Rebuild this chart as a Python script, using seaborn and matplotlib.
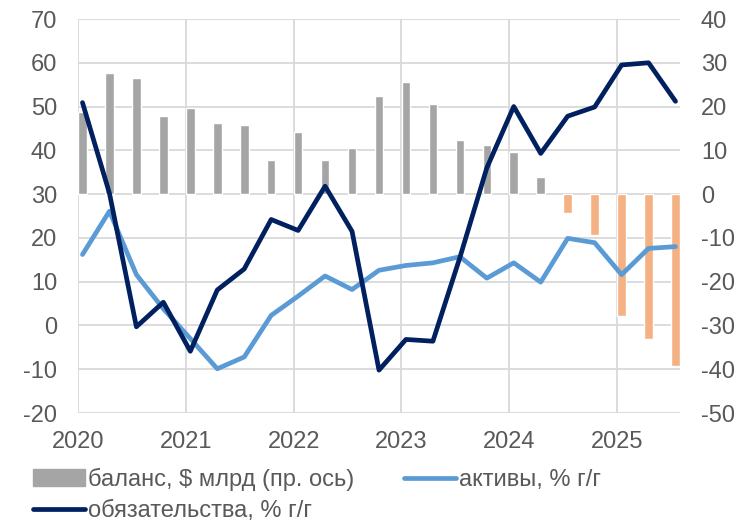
import numpy as np
import pandas as pd
import seaborn as sns
import matplotlib.pyplot as plt
from matplotlib.patches import Patch
from matplotlib.lines import Line2D

# quarterly observations, Jan 2020 .. Jul 2025
quarters = ['2020-01', '2020-04', '2020-07', '2020-10',
            '2021-01', '2021-04', '2021-07', '2021-10',
            '2022-01', '2022-04', '2022-07', '2022-10',
            '2023-01', '2023-04', '2023-07', '2023-10',
            '2024-01', '2024-04', '2024-07', '2024-10',
            '2025-01', '2025-04', '2025-07']
# balance, $ bn (right axis)
balance = [18.8, 27.6, 26.5, 17.9, 19.7, 16.2, 15.7, 7.8, 14.2, 7.8, 10.5, 22.3,
           25.7, 20.6, 12.3, 11.2, 9.6, 3.8, -4.3, -9.3, -27.9, -33.2, -39.3]
# assets, % y/y (left axis)
assets = [16.2, 26.1, 11.6, 3.8, -3.0, -9.9, -7.2, 2.3, 6.7, 11.3, 8.2, 12.6,
          13.7, 14.3, 15.7, 10.8, 14.3, 9.9, 19.9, 18.9, 11.6, 17.6, 18.0]
# liabilities, % y/y (left axis)
liabilities = [50.9, 30.2, -0.3, 5.3, -5.9, 8.1, 12.9, 24.2, 21.7, 31.8, 21.5, -10.2,
               -3.2, -3.6, 15.5, 36.0, 50.0, 39.3, 47.8, 49.9, 59.5, 60.0, 51.2]
years = ['2020', '2021', '2022', '2023', '2024', '2025']

labels = ['баланс, $ млрд (пр. ось)', 'активы, % г/г', 'обязательства, % г/г']
c_gray, c_orange = '#a5a5a5', '#f4b183'
c_light, c_dark = '#5b9bd5', '#002060'
txt = '#595959'

sns.set_style('white')
plt.rcParams['font.family'] = ['Liberation Sans', 'DejaVu Sans']
plt.rcParams['axes.unicode_minus'] = False

dates = pd.to_datetime(quarters)
df = pd.DataFrame({'date': dates, 'balance': balance,
                   'assets': assets, 'liabilities': liabilities})
# month position on a monthly date axis (middle of the month slot)
df['x'] = (df['date'].dt.year - 2020) * 12 + df['date'].dt.month - 1 + 0.5
df['sign'] = np.where(df['balance'] >= 0, 'pos', 'neg')

fig, ax = plt.subplots(figsize=(7.38, 5.22), dpi=100)
fig.subplots_adjust(left=78/738, right=680/738, top=1-19/522, bottom=1-413/522)

# bars on the main axes (right-hand scale)
sns.barplot(data=df, x='x', y='balance', hue='sign',
            palette={'pos': c_gray, 'neg': c_orange},
            native_scale=True, dodge=False, width=0.32, errorbar=None,
            legend=False, ax=ax, saturation=1)
ax.set_ylim(-50, 40)
ax.set_yticks(range(-50, 41, 10))
ax.set_axisbelow(True)
ax.grid(True, color='#d9d9d9', lw=1.3)

# lines on the twin axes (left-hand scale)
ax2 = ax.twinx()
sns.lineplot(data=df, x='x', y='assets', color=c_light, lw=3.4, ax=ax2)
sns.lineplot(data=df, x='x', y='liabilities', color=c_dark, lw=3.4, ax=ax2)
ax2.set_ylim(-20, 70)
ax2.set_yticks(range(-20, 71, 10))
ax.yaxis.tick_right()
ax2.yaxis.tick_left()

ax.set_xlim(0, 67)
ax.set_xticks(range(0, 61, 12), labels=years)

for a in (ax, ax2):
    a.set_xlabel('')
    a.set_ylabel('')
    for s in a.spines.values():
        s.set_visible(False)
    a.tick_params(length=0, labelsize=17, labelcolor=txt, pad=15)
ax.tick_params(axis='x', pad=13)

handles = [Patch(color=c_gray),
           Line2D([], [], color=c_dark, lw=3.4),
           Line2D([], [], color=c_light, lw=3.4)]
fig.legend(handles, [labels[0], labels[2], labels[1]], ncol=2,
           loc='upper left', bbox_to_anchor=(0.045, 0.104), frameon=False,
           fontsize=17, labelcolor=txt, handlelength=2.2, handletextpad=0.12,
           columnspacing=2.1, labelspacing=0.38, borderpad=0, borderaxespad=0)

fig.savefig('out.png', dpi=100)
